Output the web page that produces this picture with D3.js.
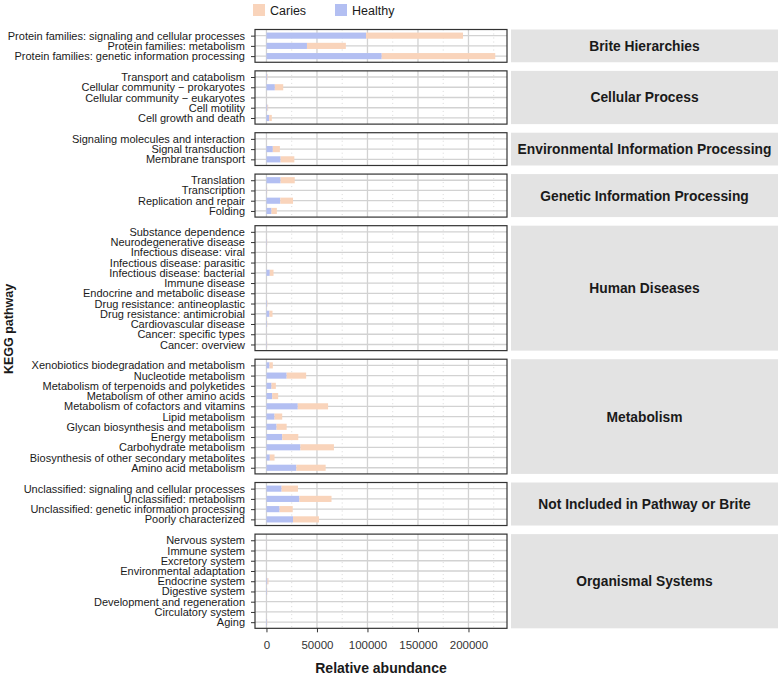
<!DOCTYPE html>
<html>
<head>
<meta charset="utf-8">
<script src="https://d3js.org/d3.v7.min.js"></script>
<style>
body { margin: 0; background: #fff; }
text { font-family: "Liberation Sans", Arial, sans-serif; }
</style>
</head>
<body>
<div id="chart"></div>
<script>
// facets (top to bottom) and their pathways (top to bottom inside each facet)
const groups = [
  "Brite Hierarchies", "Cellular Process", "Environmental Information Processing",
  "Genetic Information Processing", "Human Diseases", "Metabolism",
  "Not Included in Pathway or Brite", "Organismal Systems"
];
const pathways = [
  ["Protein families: signaling and cellular processes", "Protein families: metabolism", "Protein families: genetic information processing"],
  ["Transport and catabolism", "Cellular community \u2212 prokaryotes", "Cellular community \u2212 eukaryotes", "Cell motility", "Cell growth and death"],
  ["Signaling molecules and interaction", "Signal transduction", "Membrane transport"],
  ["Translation", "Transcription", "Replication and repair", "Folding"],
  ["Substance dependence", "Neurodegenerative disease", "Infectious disease: viral", "Infectious disease: parasitic",
   "Infectious disease: bacterial", "Immune disease", "Endocrine and metabolic disease", "Drug resistance: antineoplastic",
   "Drug resistance: antimicrobial", "Cardiovascular disease", "Cancer: specific types", "Cancer: overview"],
  ["Xenobiotics biodegradation and metabolism", "Nucleotide metabolism", "Metabolism of terpenoids and polyketides",
   "Metabolism of other amino acids", "Metabolism of cofactors and vitamins", "Lipid metabolism",
   "Glycan biosynthesis and metabolism", "Energy metabolism", "Carbohydrate metabolism",
   "Biosynthesis of other secondary metabolites", "Amino acid metabolism"],
  ["Unclassified: signaling and cellular processes", "Unclassified: metabolism", "Unclassified: genetic information processing", "Poorly characterized"],
  ["Nervous system", "Immune system", "Excretory system", "Environmental adaptation", "Endocrine system",
   "Digestive system", "Development and regeneration", "Circulatory system", "Aging"]
];
// relative abundance, same order as pathways
const healthy = [
  [98600, 40100, 114100],
  [700, 8300, 100, 1000, 2700],
  [150, 6300, 14000],
  [14000, 400, 13700, 5000],
  [80, 400, 150, 150, 3300, 80, 80, 600, 3000, 500, 150, 400],
  [3000, 20000, 5000, 5700, 31000, 8000, 10000, 15600, 33600, 3300, 29600],
  [15000, 32600, 13000, 26300],
  [150, 150, 80, 80, 1000, 500, 50, 50, 500]
];
const caries = [
  [96000, 38500, 112400],
  [500, 8300, 80, 700, 2600],
  [100, 7000, 13600],
  [14000, 300, 12600, 5300],
  [60, 300, 100, 100, 3700, 60, 60, 400, 3000, 300, 100, 300],
  [3300, 19300, 4300, 5900, 30000, 7600, 10000, 15900, 33200, 4700, 29000],
  [16200, 31800, 13000, 25700],
  [100, 100, 60, 60, 1000, 300, 40, 40, 300]
];
const xTicks = [0, 50000, 100000, 150000, 200000];
const xMinor = [25000, 75000, 125000, 175000, 225000];
const seriesNames = ["Caries", "Healthy"];
const colors = { Caries: "#F9D4BB", Healthy: "#B3BFF2" };

const W = 782, H = 678;
const panelL = 255, panelR = 507, stripL = 511, stripR = 778;
const top0 = 29.5, unit = 10.24, gap = 8.6;

const svg = d3.select("#chart").append("svg").attr("width", W).attr("height", H);

const x = d3.scaleLinear().domain([-11340, 238140]).range([panelL, panelR]);

let yTop = top0;
groups.forEach((g, gi) => {
  const cats = pathways[gi];
  const h = (cats.length - 1 + 1.2) * unit;
  const y = d3.scalePoint().domain(cats).range([yTop, yTop + h]).padding(0.6);
  const panel = svg.append("g");

  // strip
  panel.append("rect").attr("x", stripL).attr("y", yTop).attr("width", stripR - stripL).attr("height", h)
    .attr("fill", "#e3e3e3");
  panel.append("text").attr("x", (stripL + stripR) / 2).attr("y", yTop + h / 2).attr("dy", "0.36em")
    .attr("text-anchor", "middle").attr("font-weight", "bold").attr("font-size", 13.8).attr("fill", "#1a1a1a")
    .text(g);

  // grid
  panel.selectAll(".minor").data(xMinor).join("line")
    .attr("x1", d => x(d)).attr("x2", d => x(d)).attr("y1", yTop).attr("y2", yTop + h)
    .attr("stroke", "#cfcfcf").attr("stroke-width", 0.8).attr("stroke-dasharray", "1,3");
  panel.selectAll(".major").data(xTicks).join("line")
    .attr("x1", d => x(d)).attr("x2", d => x(d)).attr("y1", yTop).attr("y2", yTop + h)
    .attr("stroke", "#d2d2d2").attr("stroke-width", 1.3);
  panel.selectAll(".hgrid").data(cats).join("line")
    .attr("x1", panelL).attr("x2", panelR).attr("y1", d => y(d)).attr("y2", d => y(d))
    .attr("stroke", "#d2d2d2").attr("stroke-width", 1.3);

  // stacked bars: Healthy from zero, Caries on top
  const bw = 0.6 * unit;
  const rows = cats.map((c, i) => ({ c, h: healthy[gi][i], k: caries[gi][i] }));
  panel.selectAll(".bh").data(rows).join("rect")
    .attr("x", x(0)).attr("y", d => y(d.c) - bw / 2)
    .attr("width", d => x(d.h) - x(0)).attr("height", bw).attr("fill", colors.Healthy);
  panel.selectAll(".bc").data(rows).join("rect")
    .attr("x", d => x(d.h)).attr("y", d => y(d.c) - bw / 2)
    .attr("width", d => x(d.h + d.k) - x(d.h)).attr("height", bw).attr("fill", colors.Caries);

  // border
  panel.append("rect").attr("x", panelL).attr("y", yTop).attr("width", panelR - panelL).attr("height", h)
    .attr("fill", "none").attr("stroke", "#333").attr("stroke-width", 1.2);

  // y axis
  const ax = panel.append("g").attr("transform", `translate(${panelL},0)`)
    .call(d3.axisLeft(y).tickSize(4).tickPadding(6));
  ax.select(".domain").remove();
  ax.selectAll("line").attr("stroke", "#333");
  ax.selectAll("text").attr("font-size", 11).attr("fill", "#1a1a1a").attr("font-family", "Liberation Sans, Arial, sans-serif");

  if (gi === groups.length - 1) {
    const xa = svg.append("g").attr("transform", `translate(0,${yTop + h})`)
      .call(d3.axisBottom(x).tickValues(xTicks).tickFormat(d3.format("d")).tickSize(4).tickPadding(9));
    xa.select(".domain").remove();
    xa.selectAll("line").attr("stroke", "#333");
    xa.selectAll("text").attr("font-size", 11.5).attr("fill", "#333").attr("font-family", "Liberation Sans, Arial, sans-serif");
    svg.append("text").attr("x", (panelL + panelR) / 2).attr("y", yTop + h + 45)
      .attr("text-anchor", "middle").attr("font-weight", "bold").attr("font-size", 14).attr("fill", "#1a1a1a")
      .text("Relative abundance");
  }
  yTop += h + gap;
});

// y title
svg.append("text").attr("transform", `translate(13,${(top0 + yTop - gap) / 2}) rotate(-90)`)
  .attr("text-anchor", "middle").attr("font-weight", "bold").attr("font-size", 12.5).attr("fill", "#1a1a1a")
  .text("KEGG pathway");

// legend
const leg = svg.append("g");
const legX = [253, 335];
seriesNames.forEach((s, i) => {
  leg.append("rect").attr("x", legX[i]).attr("y", 4).attr("width", 12).attr("height", 12).attr("fill", colors[s]);
  leg.append("text").attr("x", legX[i] + 17).attr("y", 10).attr("dy", "0.36em")
    .attr("font-size", 12.5).attr("fill", "#1a1a1a").text(s);
});
</script>
</body>
</html>
